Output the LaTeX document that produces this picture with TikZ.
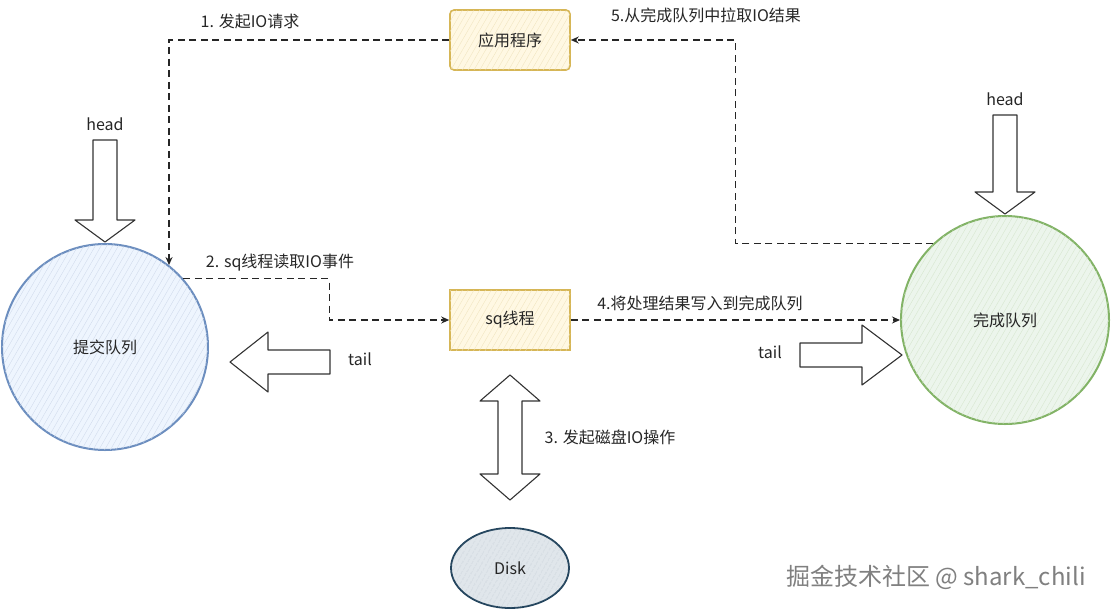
\documentclass[tikz,border=0pt]{standalone}
\usepackage{fontspec}
\setmainfont{Noto Sans CJK SC}
\usetikzlibrary{arrows.meta,patterns.meta,calc,shapes.geometric}
\definecolor{bstroke}{HTML}{6C8EBF}
\definecolor{bfill}{HTML}{DAE8FC}
\definecolor{gstroke}{HTML}{82B366}
\definecolor{gfill}{HTML}{D5E8D4}
\definecolor{ystroke}{HTML}{D6B656}
\definecolor{yfill}{HTML}{FFF2CC}
\definecolor{dstroke}{HTML}{23445D}
\definecolor{dfill}{HTML}{BAC8D3}
\tikzset{
  lbl/.style={font=\fontsize{16}{18}\selectfont, inner sep=0pt, text=black!85},
  conn/.style={draw=black!85, line width=1.4pt, dash pattern=on 7pt off 4.5pt, -{Stealth[length=8pt,width=7pt]}},
  blk/.style={draw=black!80, line width=1.1pt, fill=white, line join=round},
  boxnode/.style={draw=ystroke, line width=1.6pt, fill=yfill!55, minimum width=120pt, minimum height=60pt, inner sep=0pt, font=\fontsize{16}{18}\selectfont, text=black!85,
    postaction={pattern={Lines[angle=60,distance=5pt,line width=0.3pt]}, pattern color=ystroke!40}},
  circ/.style={circle, line width=2pt, inner sep=0pt, font=\fontsize{16}{18}\selectfont, text=black!85}
}
\begin{document}
\begin{tikzpicture}[x=1pt,y=-1pt]
\useasboundingbox (0,0) rectangle (1111,611);
\fill[white] (0,0) rectangle (1111,611);

% nodes
\node[boxnode, rounded corners=4pt] (app) at (510,40) {应用程序};
\node[boxnode] (sq) at (510,320) {sq线程};
\node[circ, draw=bstroke, fill=bfill!45, minimum size=206pt,
  postaction={pattern={Lines[angle=60,distance=5pt,line width=0.3pt]}, pattern color=bstroke!35}] (sub) at (105,347) {提交队列};
\node[circ, draw=gstroke, fill=gfill!45, minimum size=208pt,
  postaction={pattern={Lines[angle=60,distance=5pt,line width=0.3pt]}, pattern color=gstroke!35}] (done) at (1005,320) {完成队列};
\node[ellipse, draw=dstroke, line width=1.8pt, fill=dfill!45, minimum width=118pt, minimum height=80pt, inner sep=0pt, font=\fontsize{16}{18}\selectfont, text=black!85,
  postaction={pattern={Lines[angle=60,distance=4pt,line width=0.3pt]}, pattern color=dstroke!40}] (disk) at (510,568) {Disk};

% labels
\node[lbl] (l1) at (250,21) {1. 发起IO请求};
\node[lbl] (l5) at (706,15) {5.从完成队列中拉取IO结果};
\node[lbl] (hl) at (105,124) {head};
\node[lbl] (hr) at (1005,99) {head};
\node[lbl] (l2) at (280,263) {2. sq线程读取IO事件};
\node[lbl] (l4) at (700,303) {4.将处理结果写入到完成队列};
\node[lbl] (tl) at (360,359) {tail};
\node[lbl] (tr) at (770,352) {tail};
\node[lbl] (l3) at (610,437) {3. 发起磁盘IO操作};
\node[font=\fontsize{24}{26}\selectfont, text=black!50, inner sep=0pt] (wm) at (936,577) {掘金技术社区 @ shark\_chili};

% connectors
\draw[conn] (app.west) -| (sub.52);
\draw[conn] (sub.41) -| ($(sq.west)+(-120,0)$) -- (sq.west);
\draw[conn] (sq.east) -- (done.west);
\draw[conn] (done.133) -- ++(-198,0) |- (app.east);

% block arrows
\draw[blk] (93,140) -- (117,140) -- (117,220) -- (135,220) -- (105,242) -- (75,220) -- (93,220) -- cycle;
\draw[blk] (993,115) -- (1017,115) -- (1017,192) -- (1035,192) -- (1005,214) -- (975,192) -- (993,192) -- cycle;
\draw[blk] (330,350) -- (268,350) -- (268,332) -- (230,362) -- (268,392) -- (268,374) -- (330,374) -- cycle;
\draw[blk] (800,343) -- (862,343) -- (862,325) -- (902,355) -- (862,385) -- (862,367) -- (800,367) -- cycle;
\draw[blk] (510,375) -- (540,401) -- (522,401) -- (522,474) -- (540,474) -- (510,500) -- (480,474) -- (498,474) -- (498,401) -- (480,401) -- cycle;
\end{tikzpicture}
\end{document}
